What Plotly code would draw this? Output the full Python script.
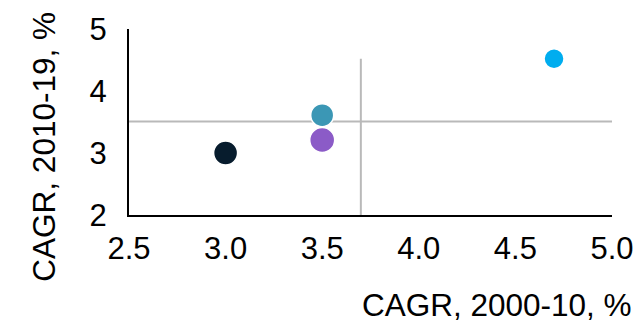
import plotly.graph_objects as go

# Compound annual growth rates, two periods
cagr_2000_10 = [3.0, 3.5, 3.5, 4.7]
cagr_2010_19 = [3.0, 3.61, 3.21, 4.52]
point_colors = ["#071C2D", "#3B97B5", "#8B5BC7", "#00ADEF"]
point_sizes = [24, 23, 25, 20]

# Dividing lines between quadrants
x_split = 3.7
y_split = 3.51
x_range = [2.5, 5.0]
y_range = [2, 5]
x_ticks = [2.5, 3.0, 3.5, 4.0, 4.5, 5.0]
y_ticks = [2, 3, 4, 5]

FONT = "Liberation Sans, Arial, sans-serif"
GRID = "#B9B9B9"

fig = go.Figure()

# quadrant lines
fig.add_trace(go.Scatter(x=x_range, y=[y_split, y_split], mode="lines",
                         line=dict(color=GRID, width=2), hoverinfo="skip",
                         showlegend=False, cliponaxis=False))
fig.add_trace(go.Scatter(x=[x_split, x_split], y=[y_range[0], cagr_2010_19[3]],
                         mode="lines", line=dict(color=GRID, width=2),
                         hoverinfo="skip", showlegend=False, cliponaxis=False))

# data points
fig.add_trace(go.Scatter(
    x=cagr_2000_10, y=cagr_2010_19, mode="markers",
    marker=dict(color=point_colors, size=point_sizes, opacity=1,
                line=dict(color="white", width=1.5)),
    opacity=1, showlegend=False, cliponaxis=False,
))

fig.update_xaxes(range=x_range, tickvals=x_ticks, tickformat=".1f",
                 automargin=False,
                 showgrid=False, zeroline=False, showline=True,
                 linecolor="black", linewidth=2,
                 ticks="outside", ticklen=5, tickcolor="rgba(0,0,0,0)",
                 tickfont=dict(family=FONT, size=31, color="black"))
fig.update_yaxes(range=y_range, tickvals=y_ticks,
                 automargin=False,
                 showgrid=False, zeroline=False, showline=True,
                 linecolor="black", linewidth=2,
                 ticks="outside", ticklen=14, tickcolor="rgba(0,0,0,0)",
                 tickfont=dict(family=FONT, size=31, color="black"))

fig.add_annotation(text="CAGR, 2000-10, %", xref="paper", yref="paper",
                   x=1.045, y=-0.485, xanchor="right", yanchor="middle",
                   showarrow=False,
                   font=dict(family=FONT, size=31.5, color="black"))
fig.add_annotation(text="CAGR, 2010-19, %", xref="paper", yref="paper",
                   x=-0.175, y=0.37, xanchor="center", yanchor="middle",
                   textangle=-90, showarrow=False,
                   font=dict(family=FONT, size=31.5, color="black"))

fig.update_layout(width=639, height=324,
                  margin=dict(l=129, r=27, t=29, b=109),
                  plot_bgcolor="white", paper_bgcolor="white")

fig.write_html("out.html")
